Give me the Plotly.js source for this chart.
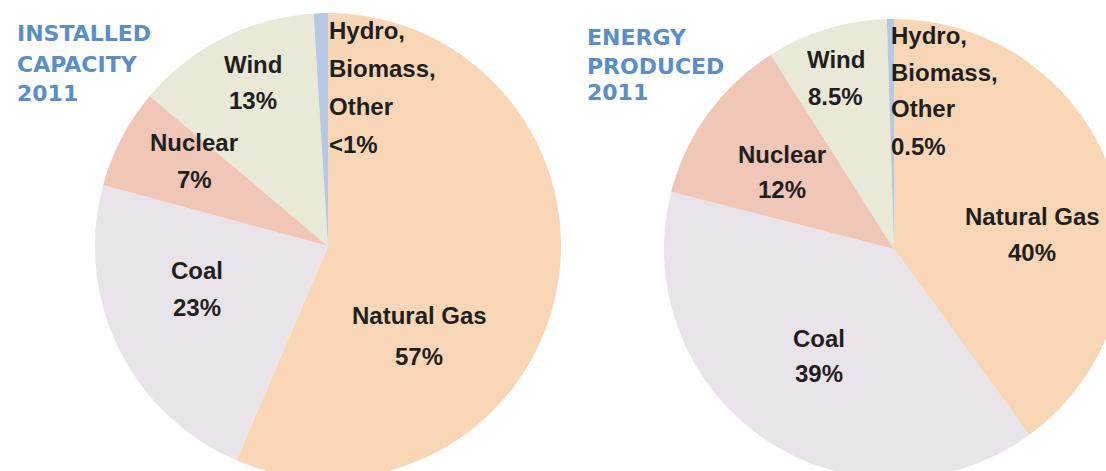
<!DOCTYPE html>
<html>
<head>
<meta charset="utf-8">
<script src="https://cdn.plot.ly/plotly-3.0.1.min.js"></script>
<style>
  html, body { margin: 0; padding: 0; background: #ffffff; overflow: hidden; width: 1106px; height: 471px; }
  #chart { width: 1140px; height: 500px; }
</style>
</head>
<body>
<div id="chart"></div>
<script>
// ---- data ----
const sources = ['Natural Gas', 'Coal', 'Nuclear', 'Wind', 'Hydro, Biomass, Other'];
const labelLines = [['Natural Gas'], ['Coal'], ['Nuclear'], ['Wind'], ['Hydro,', 'Biomass,', 'Other']];
const capacityValues = [57, 23, 7, 13, 1];
const capacityText = ['57%', '23%', '7%', '13%', '<1%'];
const energyValues = [40, 39, 12, 8.5, 0.5];
const energyText = ['40%', '39%', '12%', '8.5%', '0.5%'];
const capacityTitle = ['INSTALLED', 'CAPACITY', '2011'];
const energyTitle = ['ENERGY', 'PRODUCED', '2011'];

// ---- styling / layout ----
const W = 1140, H = 500;
const sliceColors = ['#F9D7B6', '#E9E3EA', '#F0C6B6', '#E9E9D8', '#B7C8E3'];
const titleColor = '#5B8DC8';
const textColor = '#1f1f1f';
const labelFont = { family: 'Liberation Sans, Arial, sans-serif', size: 24, color: textColor };
const titleFont = { family: 'DejaVu Sans, Verdana, sans-serif', size: 22, color: titleColor };

function dom(cx, cy, r) {
  return { x: [(cx - r) / W, (cx + r) / W], y: [1 - (cy + r) / H, 1 - (cy - r) / H] };
}
const px = x => x / W;
const py = y => 1 - y / H;

const traces = [
  {
    type: 'pie', labels: sources, values: capacityValues, sort: false,
    direction: 'clockwise', rotation: 0, textinfo: 'none', hoverinfo: 'label+percent',
    marker: { colors: sliceColors, line: { width: 0 } },
    domain: dom(328, 246, 233), showlegend: false
  },
  {
    type: 'pie', labels: sources, values: energyValues, sort: false,
    direction: 'clockwise', rotation: 0, textinfo: 'none', hoverinfo: 'label+percent',
    marker: { colors: sliceColors, line: { width: 0 } },
    domain: dom(894, 249, 230), showlegend: false
  }
];

// label anchor positions (pixel): [x, firstLineY, lineStep, xanchor] in source order
const capacityPos = [
  [419, 314, 41, 'center'],
  [197, 269, 37, 'center'],
  [194, 141, 37, 'center'],
  [253, 63, 37, 'center'],
  [327, 29, 38.3, 'left']
];
const energyPos = [
  [1032, 216, 35, 'center'],
  [819, 337, 35, 'center'],
  [782, 153, 35, 'center'],
  [836, 58, 38, 'center'],
  [889, 34, 37, 'left']
];

const annotations = [];
function addLabels(pctText, pos) {
  sources.forEach((s, i) => {
    const lines = labelLines[i].concat([pctText[i]]);
    const [x, y0, step, anchor] = pos[i];
    lines.forEach((t, k) => {
      annotations.push({
        xref: 'paper', yref: 'paper', x: px(x), y: py(y0 + k * step + 1),
        xanchor: anchor, yanchor: 'middle', showarrow: false,
        text: '<b>' + t + '</b>', font: labelFont
      });
    });
  });
}
addLabels(capacityText, capacityPos);
addLabels(energyText, energyPos);

function addTitle(lines, x, ys) {
  lines.forEach((t, k) => {
    annotations.push({
      xref: 'paper', yref: 'paper', x: px(x), y: py(ys[k] + 1),
      xanchor: 'left', yanchor: 'middle', showarrow: false,
      text: '<b>' + t + '</b>', font: titleFont
    });
  });
}
addTitle(capacityTitle, 15, [32, 63, 93]);
addTitle(energyTitle, 585, [37, 65, 92]);

const layout = {
  width: W, height: H,
  margin: { l: 0, r: 0, t: 0, b: 0 },
  paper_bgcolor: '#ffffff', plot_bgcolor: '#ffffff',
  showlegend: false,
  annotations: annotations
};

Plotly.newPlot('chart', traces, layout, { displayModeBar: false, staticPlot: true });
</script>
</body>
</html>
